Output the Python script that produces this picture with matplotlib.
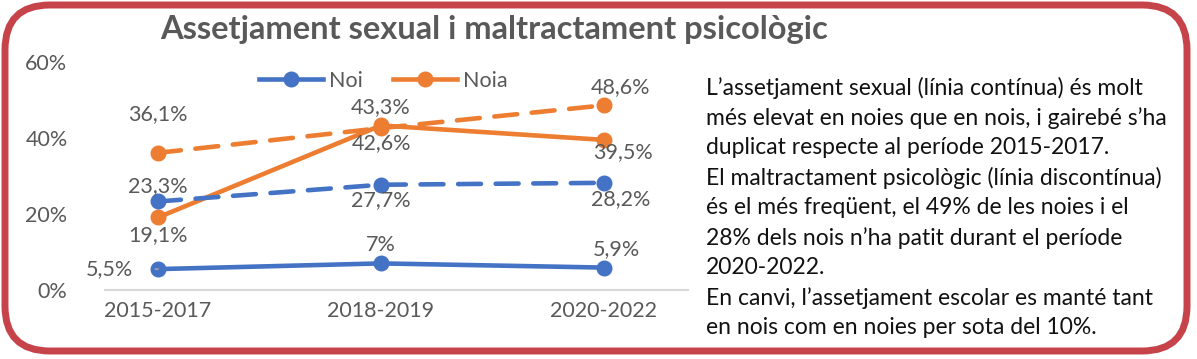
import numpy as np
import matplotlib.pyplot as plt
from matplotlib.patches import FancyBboxPatch

periods = ["2015-2017", "2018-2019", "2020-2022"]
noi_sexual = [5.5, 7.0, 5.9]
noia_sexual = [19.1, 43.3, 39.5]
noi_psico = [23.3, 27.7, 28.2]
noia_psico = [36.1, 42.6, 48.6]

title = "Assetjament sexual i maltractament psicològic"
text_lines = [
    "L\u2019assetjament sexual (línia contínua) és molt",
    "més elevat en noies que en nois, i gairebé s\u2019ha",
    "duplicat respecte al període 2015-2017.",
    "El maltractament psicològic (línia discontínua)",
    "és el més freqüent, el 49% de les noies i el",
    "28% dels nois n\u2019ha patit durant el període",
    "2020-2022.",
    "En canvi, l\u2019assetjament escolar es manté tant",
    "en nois com en noies per sota del 10%.",
]

BLUE = "#4472C4"
ORANGE = "#ED7D31"
GREY = "#595959"
RED = "#C6434A"

plt.rcParams['font.family'] = ['Lato', 'DejaVu Sans']

W, H = 1197, 359
fig = plt.figure(figsize=(W / 100, H / 100), dpi=100)

# background layer in pixel units for the rounded frame and text block
bg = fig.add_axes([0, 0, 1, 1])
bg.set_xlim(0, W)
bg.set_ylim(H, 0)
bg.axis("off")
frame = FancyBboxPatch(
    (5, 5), 1182, 346,
    boxstyle="round,pad=0,rounding_size=45",
    fill=False, edgecolor=RED, linewidth=5
)
bg.add_patch(frame)

bg.text(494, 29, title, ha="center", va="center",
        fontsize=23.5, fontweight="bold", color=GREY)

for i, line in enumerate(text_lines):
    bg.text(706, 88 + i * 30, line, ha="left", va="center",
            fontsize=16.5, color="#111111")

# chart axes: x from 105 to 688 px, y 0% at 290 px, 60% at 62 px
ax = fig.add_axes([105 / W, (H - 290) / H, 583 / W, 228 / H])
x = np.arange(len(periods))

ax.plot(x, noi_sexual, color=BLUE, lw=3.3, marker="o", ms=10.5, label="Noi")
ax.plot(x, noia_sexual, color=ORANGE, lw=3.3, marker="o", ms=10.5, label="Noia")
ax.plot(x, noi_psico, color=BLUE, lw=3.3, marker="o", ms=10.5,
        dashes=(5, 3.2), dash_capstyle="round")
ax.plot(x, noia_psico, color=ORANGE, lw=3.3, marker="o", ms=10.5,
        dashes=(5, 3.2), dash_capstyle="round")

ax.set_xlim(-0.238, 2.377)
ax.set_ylim(0, 60)
ax.set_yticks([0, 20, 40, 60])
ax.set_yticklabels(["0%", "20%", "40%", "60%"])
ax.set_xticks(x)
ax.set_xticklabels(periods)
ax.tick_params(axis="both", length=0, labelsize=15.5, colors=GREY)
ax.tick_params(axis="y", pad=27)
ax.tick_params(axis="x", pad=8)
for side in ["top", "right", "left"]:
    ax.spines[side].set_visible(False)
ax.spines["bottom"].set_color("#D9D9D9")
ax.spines["bottom"].set_linewidth(1.5)
ax.set_facecolor("none")


def lab(xi, yi, dx, dy):
    ax.annotate(f"{yi:g}".replace(".", ",") + "%", (xi, yi),
                xytext=(dx, dy), textcoords="offset points",
                ha="center", va="center", fontsize=15.5, color=GREY)


# Noi sexual
ax.annotate("5,5%", (0, noi_sexual[0]), xytext=(-35, 0),
            textcoords="offset points", ha="center", va="center",
            fontsize=15.5, color=GREY,
            arrowprops=dict(arrowstyle="-", color="#A6A6A6", lw=1.2,
                            shrinkA=14, shrinkB=5))
lab(1, noi_sexual[1], 0, 13)
lab(2, noi_sexual[2], 9, 13)
# Noia sexual
lab(0, noia_sexual[0], 0, -13)
lab(1, noia_sexual[1], 0, 13)
lab(2, noia_sexual[2], 14, -9)
# Noi psico
lab(0, noi_psico[0], 0, 11)
lab(1, noi_psico[1], 0, -11)
lab(2, noi_psico[2], 12, -12)
# Noia psico
lab(0, noia_psico[0], 0, 28)
lab(1, noia_psico[1], 0, -11)
lab(2, noia_psico[2], 12, 13)

leg = ax.legend(loc="center", bbox_to_anchor=((383 - 105) / 583, (290 - 81) / 228),
                ncol=2, frameon=False, fontsize=15.5, handlelength=3.0,
                columnspacing=1.4, handletextpad=0.25)
for t in leg.get_texts():
    t.set_color(GREY)

fig.savefig("out.png", dpi=100)
